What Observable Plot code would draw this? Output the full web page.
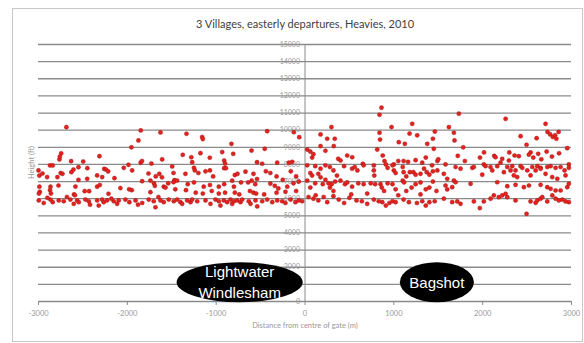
<!DOCTYPE html>
<html><head><meta charset="utf-8">
<script src="https://cdn.jsdelivr.net/npm/d3@7"></script>
<script src="https://cdn.jsdelivr.net/npm/@observablehq/plot@0.6"></script>
<style>html,body{margin:0;padding:0;background:#fff;} svg{display:block;}</style>
</head><body><div id="chart"></div>
<script>
const title = "3 Villages, easterly departures, Heavies, 2010";
const xLabel = "Distance from centre of gate (m)";
const yLabel = "Height (ft)";
const xTicks = [-3000,-2000,-1000,0,1000,2000,3000];
const yTicks = [0,1000,2000,3000,4000,5000,6000,7000,8000,9000,10000,11000,12000,13000,14000,15000];
const villages = ["Lightwater\nWindlesham","Bagshot"];
const villageX = [-730,1490];
const villageY = [1100,1100];

// distance (m) and height (ft)
const distance = [
-2686,-1849,-1627,-1875,-1954,-2745,-2314,-2764,-2760,-2633,-2497,-1850,-1835,-1729,-1608,-2870,-2840,-3000,-2990,-2955,-2903,-2750,-2730,-2787,-2630,-2606,-2550,-2450,-2260,-2240,-2216,-2340,-2550,-2452,-2283,-2145,-2040,-1987,-1946,-1762,-1680,-1640,-1610,-1833,-1740,
-2990,-2985,-2995,-2865,-2870,-2860,-2775,-2584,-2480,-2430,-2600,-2590,-2340,-2310,-2212,-2078,-1980,-1950,-1740,-1700,-1690,-1590,-1570,-1540,
-2997,-2941,-2866,-2840,-2772,-2716,-2641,-2603,-2565,-2547,-2472,-2434,-2340,-2322,-2284,-2266,-2228,-2153,-2115,-2097,-2022,-1977,-1908,-1833,-1759,-1703,-1683,-1627,-1590,-1534,
-2900,-2680,-2420,-2180,-1880,-1650,
-1334,-1158,-1150,-828,-426,-453,-126,-65,-1376,-1280,-1270,-1177,-1072,-932,-808,-910,-900,-602,-540,-482,-313,-182,-144,-1495,-1480,-1470,-1346,-1250,-1240,-1200,-1120,-1070,-1034,-910,-890,-790,-760,-720,-670,-580,-440,-390,-320,-250,-160,-100,-70,
-1480,-1440,-1320,-1250,-1140,-1070,-970,-910,-820,-800,-640,-600,-560,-540,-390,-340,-300,-200,-130,
-1460,-1340,-1230,-1150,-1050,-970,-900,-790,-740,-620,-580,-550,-460,-320,-220,-100,
-1477,-1439,-1402,-1383,-1327,-1289,-1271,-1214,-1120,-1064,-1008,-970,-952,-914,-876,-839,-820,-801,-764,-726,-707,-633,-613,-557,-538,-482,-426,-369,-313,-257,-220,-163,-107,-70,-32,
861,839,298,974,1207,1462,175,250,335,839,845,1056,1124,1177,1263,1376,1440,175,324,813,1450,25,60,80,95,230,374,400,475,531,651,775,875,895,910,1000,1050,1110,1160,1245,1320,1360,1430,1490,
25,115,175,230,60,150,280,320,360,440,530,560,590,660,775,780,930,985,1000,1020,1100,1110,1140,1180,1220,1245,1300,1340,1370,1400,1440,1490,
25,80,115,60,175,200,230,265,280,300,340,320,400,450,475,530,600,660,740,790,850,865,890,930,985,1020,1100,1115,1140,1200,1245,1300,1360,1400,1440,1480,
40,95,150,210,250,380,440,500,580,640,700,775,830,870,910,950,985,1020,1110,1170,1260,1320,1360,1400,1460,
120,320,520,700,1050,1300,
1732,2258,2708,2730,2760,2790,2815,2830,2855,1620,1676,1683,2427,2607,2494,1781,2952,2015,2300,2540,1500,1720,1800,1970,2130,2145,2220,2295,2359,2407,2520,2570,2625,2660,2720,2780,2860,2970,
1582,1695,1751,1883,1901,2013,2032,2088,2164,2201,2277,2333,2370,2427,2446,2502,2558,2615,2652,2727,2765,2821,2877,2922,2970,
1563,1601,1676,1995,2108,2239,2314,2351,2389,2539,2596,2652,2708,2783,2840,2933,
1582,1601,1657,1695,1864,2164,2277,2370,2464,2521,2652,2727,2765,2821,2877,2952,2970,
1563,1657,1714,1751,1901,2013,2089,2126,2182,2220,2258,2277,2370,2539,2596,2615,2652,2671,2727,2784,2821,2858,2896,2933,2970,
1968,2494
];
const height = [
10175,9983,9866,9400,9000,8640,8480,8290,8450,8190,8170,8100,8200,8050,8290,7940,7940,7650,7350,7470,7260,7500,7450,7260,7550,7700,7840,7780,7740,7700,7590,7360,7100,7160,7260,7200,7800,7980,7650,7470,7300,7450,7250,7020,7060,
6700,6400,6300,6700,6500,6300,6770,6710,6440,6440,6250,6200,6700,6800,6290,6620,6550,6500,6380,6900,6750,6700,6650,6900,
5900,5750,5950,5800,5900,5850,5950,5700,5900,5800,5950,5850,5900,5600,5950,5800,5900,5850,5700,5900,5950,5800,5900,5750,5950,5850,5500,5900,5800,5950,
6050,6100,5650,6000,5650,6100,
9790,9600,9480,9200,9940,8910,9880,9590,8560,8420,8130,8660,8390,8720,8620,8230,8050,8810,8130,8040,8100,8100,8150,7880,7500,7080,7450,7800,7650,7500,7600,7650,7300,7780,7780,7380,7450,6950,7580,7450,7600,7500,7300,7100,7600,7300,7000,
6960,7060,6850,6950,6700,6800,6700,6850,7050,6700,6950,7050,6850,7150,6880,6750,6600,6700,6900,
6550,6500,6350,6300,6450,6300,6350,6350,6250,6450,6350,6300,6250,6350,6400,6450,
5850,5950,5800,5700,5900,5800,5950,5850,5900,5700,5950,5850,5600,5900,5800,5950,5700,5850,5900,5800,5950,5850,5700,5900,5550,5850,5950,5800,5900,5850,5750,5950,5800,5900,5850,
11310,10900,10180,10180,10370,9920,9750,9500,9500,9850,9450,9300,9200,9800,9700,9200,9500,9070,9070,8870,8910,8870,8750,8400,8600,8800,8330,8230,8520,8420,8040,7940,8520,8200,8000,8000,8200,8200,8150,8250,8100,8400,7950,8200,
7950,7900,7750,7950,7500,7450,7850,7650,7350,7900,7750,7850,7650,7950,7650,7350,7800,7950,7650,7500,7850,7550,7300,7550,7550,7400,7450,7750,7550,7400,7600,7650,
7050,7350,6900,6650,7250,6850,7100,6900,6650,6850,7000,6450,7050,6850,6950,6700,6900,6850,6900,6850,6850,6650,6450,6900,6850,6550,7050,6950,6450,6650,6850,6950,6550,6650,7000,6450,
6100,6000,5900,6100,5800,5950,5750,6050,5900,5850,5700,5950,5850,5800,5600,5750,5850,5800,5950,5800,5750,5850,5600,5800,5850,
6200,6150,6250,6300,6200,6250,
10960,10660,10370,9900,9750,9600,9700,9500,9900,10180,9850,9400,9650,9530,9150,9000,8950,8700,8700,8700,8300,8500,8200,8400,8500,8420,8330,8230,8520,8480,8570,8400,8620,8300,8750,8460,8650,8000,
8000,7850,7750,7800,7850,8000,7900,7850,7900,8100,7850,7900,7650,7900,7800,7650,7850,7900,7800,7850,7900,7800,7850,7650,7800,
7450,7160,7060,7400,7650,7550,7650,7360,7260,7360,7650,7750,7450,7260,7160,7360,
6770,6540,6670,6960,6870,6960,6730,6810,6670,6770,6810,6670,6580,6480,6480,6670,6870,
6000,5800,5840,5700,5840,5840,6000,6190,6090,6190,6290,6090,5900,5840,5760,5900,6000,6090,5840,6190,6000,5900,5950,5840,5800,
5450,5120
];
const flights = distance.map((d, i) => ({distance: d, height: height[i]}));
const places = villages.map((v, i) => ({name: v, x: villageX[i], y: villageY[i]}));

const grey = "#8a8a8a";
const plot = Plot.plot({
  width: 584,
  height: 343,
  marginLeft: 38,
  marginRight: 13,
  marginTop: 44,
  marginBottom: 42,
  style: {fontFamily: "Lato, 'Liberation Sans', sans-serif", background: "#fff"},
  x: {type: "linear", domain: [-3000, 3000], axis: null},
  y: {type: "linear", domain: [0, 15000], axis: null},
  marks: [
    Plot.ruleY(yTicks.filter(d => d > 0), {stroke: grey, strokeWidth: 1.3}),
    Plot.ruleX([0], {y1: 0, y2: 15000, stroke: grey, strokeWidth: 1}),
    Plot.text(yTicks, {x: 0, y: d => d, text: d => String(d), textAnchor: "end", dx: -5, fontSize: 7, fill: "#999"}),
    Plot.ruleY([0], {stroke: grey, strokeWidth: 1.5}),
    Plot.axisX({ticks: xTicks, tickSize: 4, stroke: grey, fill: "#999", fontSize: 7.5, tickFormat: d => String(d), label: null}),
    Plot.dot(flights, {x: "distance", y: "height", r: 2.1, fill: "#e3231f", stroke: "#9b1010", strokeWidth: 0.4}),
    Plot.text([xLabel], {frameAnchor: "bottom", dy: 26, fontSize: 7.5, fill: "#999"}),
    Plot.text([yLabel], {frameAnchor: "left", rotate: -90, dx: -7, dy: 6, fontSize: 7.5, fill: "#999"}),
    Plot.text([title], {frameAnchor: "top", dy: -24, fontSize: 11, fill: "#404040"})
  ]
});
document.getElementById("chart").appendChild(plot);

const svg = d3.select(plot);
const sx = plot.scale("x"), sy = plot.scale("y");
svg.insert("rect", ":first-child")
  .attr("x", 12.5).attr("y", 8.5).attr("width", 570).attr("height", 333)
  .attr("fill", "#fff").attr("stroke", "#c8c8c8");
const rx = [63, 37];
const g = svg.append("g");
places.forEach((p, i) => {
  const cx = sx.apply(p.x), cy = sy.apply(p.y);
  g.append("ellipse").attr("cx", cx).attr("cy", cy).attr("rx", rx[i]).attr("ry", 20).attr("fill", "#000");
  const lines = p.name.split("\n");
  lines.forEach((t, j) => {
    g.append("text").attr("x", cx).attr("y", cy + (j - (lines.length - 1) / 2) * 21)
      .attr("dy", "0.36em").attr("text-anchor", "middle")
      .attr("fill", "#fff").attr("font-family", "'Liberation Sans', Arial, sans-serif").attr("font-size", 15)
      .text(t);
  });
});
</script></body></html>
